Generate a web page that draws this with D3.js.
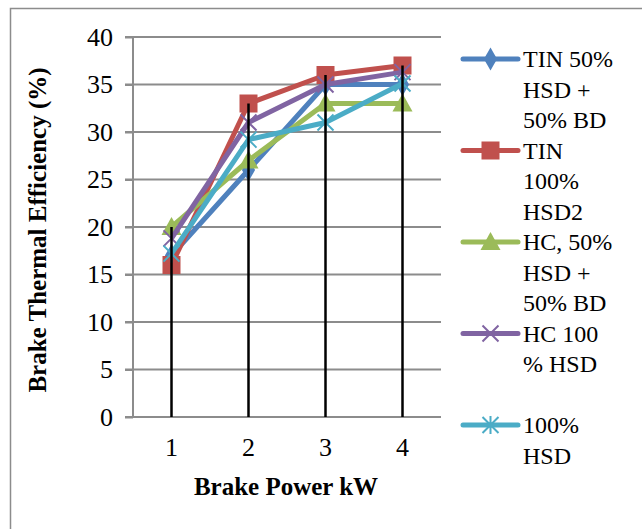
<!DOCTYPE html>
<html>
<head>
<meta charset="utf-8">
<script src="https://cdn.jsdelivr.net/npm/d3@7"></script>
<style>
  body { margin: 0; background: #fff; }
  svg text { font-family: "Liberation Serif", "Times New Roman", serif; fill: #000; }
</style>
</head>
<body>
<div id="chart"></div>
<script>
// chart data
const categories = ["1", "2", "3", "4"];
const seriesNames = ["TIN 50% HSD + 50% BD", "TIN 100% HSD2", "HC, 50% HSD + 50% BD", "HC 100 % HSD", "100% HSD"];
const legendLines = [
    ["TIN 50%", "HSD +", "50% BD"],
    ["TIN", "100%", "HSD2"],
    ["HC, 50%", "HSD +", "50% BD"],
    ["HC 100", "% HSD", ""],
    ["100%", "HSD"]
];
const tinBlend = [17, 26, 35, 35];
const tinHsd = [16, 33, 36, 37];
const hcBlend = [20, 27, 33, 33];
const hcHsd = [18.8, 31, 35, 36.3];
const hsd = [17.2, 29.2, 31, 35.1];
const yTicks = [0, 5, 10, 15, 20, 25, 30, 35, 40];

const colors = ["#4F81BD", "#C0504D", "#9BBB59", "#8064A2", "#4BACC6"];
const markers = ["diamond", "square", "triangle", "x", "star"];
const allSeries = [tinBlend, tinHsd, hcBlend, hcHsd, hsd];

const [svgW, svgH] = [642, 529];
const PLOT = {left: 133, right: 441, top: 37, bottom: 417};
const FONT = 25;

const svg = d3.select("#chart").append("svg").attr("width", svgW).attr("height", svgH);

// outer frame
svg.append("rect").attr("x", 10.5).attr("y", 8.5).attr("width", 700).attr("height", 600)
    .attr("fill", "none").attr("stroke", "#8c8c8c").attr("stroke-width", 1.5);

const x = d3.scaleBand().domain(categories).range([PLOT.left, PLOT.right]).padding(0);
const y = d3.scaleLinear().domain([0, 40]).range([PLOT.bottom, PLOT.top]);
const cx = function (c) { return x(c) + x.bandwidth() / 2; };

// grid
svg.append("g").selectAll("line").data(yTicks).enter().append("line")
    .attr("x1", PLOT.left - 8).attr("x2", PLOT.right)
    .attr("y1", function (d) { return y(d); }).attr("y2", function (d) { return y(d); })
    .attr("stroke", "#8c8c8c").attr("stroke-width", 2);

// y axis
const yAxis = svg.append("g").attr("transform", "translate(" + PLOT.left + ",0)")
    .call(d3.axisLeft(y).tickValues(yTicks).tickSize(8).tickPadding(12));
yAxis.select(".domain").attr("stroke", "#8c8c8c").attr("stroke-width", 2).attr("d", "M0," + PLOT.top + "V" + PLOT.bottom);
yAxis.selectAll(".tick line").attr("stroke", "#8c8c8c").attr("stroke-width", 2);
yAxis.selectAll("text").style("font-size", "26px");

// x axis
const xAxis = svg.append("g").attr("transform", "translate(0," + PLOT.bottom + ")")
    .call(d3.axisBottom(x).tickSize(0).tickPadding(21));
xAxis.select(".domain").remove();
xAxis.selectAll("text").style("font-size", "26px");

// series lines + markers
const line = d3.line()
    .x(function (d, i) { return cx(categories[i]); })
    .y(function (d) { return y(d); });

function drawMarker(g, type, color, px, py) {
    if (type === "diamond") {
        g.append("path").attr("d", d3.symbol(d3.symbolDiamond, 150)()).attr("transform", "translate(" + px + "," + py + ")").attr("fill", color);
    } else if (type === "square") {
        g.append("rect").attr("x", px - 9).attr("y", py - 9).attr("width", 18).attr("height", 18).attr("fill", color);
    } else if (type === "triangle") {
        g.append("path").attr("d", "M" + px + "," + (py - 10) + "L" + (px + 10) + "," + (py + 8) + "L" + (px - 10) + "," + (py + 8) + "Z").attr("fill", color);
    } else if (type === "x") {
        g.append("path").attr("d", "M" + (px - 8) + "," + (py - 8) + "L" + (px + 8) + "," + (py + 8) + "M" + (px + 8) + "," + (py - 8) + "L" + (px - 8) + "," + (py + 8))
            .attr("stroke", color).attr("stroke-width", 2).attr("fill", "none");
    } else if (type === "star") {
        g.append("path").attr("d", "M" + (px - 8) + "," + (py - 8) + "L" + (px + 8) + "," + (py + 8) + "M" + (px + 8) + "," + (py - 8) + "L" + (px - 8) + "," + (py + 8) + "M" + px + "," + (py - 9) + "V" + (py + 9))
            .attr("stroke", color).attr("stroke-width", 2).attr("fill", "none");
    }
}

allSeries.forEach(function (vals, si) {
    const g = svg.append("g");
    g.append("path").datum(vals).attr("d", line).attr("fill", "none")
        .attr("stroke", colors[si]).attr("stroke-width", 5).attr("stroke-linejoin", "round");
    vals.forEach(function (v, i) {
        drawMarker(g, markers[si], colors[si], cx(categories[i]), y(v));
    });
});

// drop lines from max value to axis
const maxVals = categories.map(function (c, i) {
    return d3.max(allSeries, function (s) { return s[i]; });
});
svg.append("g").selectAll("line").data(categories).enter().append("line")
    .attr("x1", cx).attr("x2", cx)
    .attr("y1", y(0)).attr("y2", function (c, i) { return y(maxVals[i]); })
    .attr("stroke", "#000").attr("stroke-width", 2.5);

// axis titles
svg.append("text").attr("x", 286).attr("y", 495).attr("text-anchor", "middle")
    .style("font-size", FONT + "px").style("font-weight", "bold").text("Brake Power kW");
svg.append("text").attr("transform", "translate(46,230) rotate(-90)").attr("text-anchor", "middle")
    .style("font-size", FONT + "px").style("font-weight", "bold").text("Brake Thermal Efficiency (%)");

// legend
const LEG = {x1: 463, x2: 518, textX: 523, top: 59, lineH: 30.5};
const legend = svg.append("g");
seriesNames.forEach(function (name, si) {
    const ly = LEG.top + si * 3 * LEG.lineH;
    legend.append("line").attr("x1", LEG.x1).attr("x2", LEG.x2).attr("y1", ly).attr("y2", ly)
        .attr("stroke", colors[si]).attr("stroke-width", 5).attr("stroke-linecap", "round");
    drawMarker(legend, markers[si], colors[si], (LEG.x1 + LEG.x2) / 2, ly);
    legendLines[si].forEach(function (t, li) {
        legend.append("text").attr("x", LEG.textX).attr("y", ly + li * LEG.lineH).attr("dy", "0.35em")
            .style("font-size", "24px").text(t);
    });
});
</script>
</body>
</html>
